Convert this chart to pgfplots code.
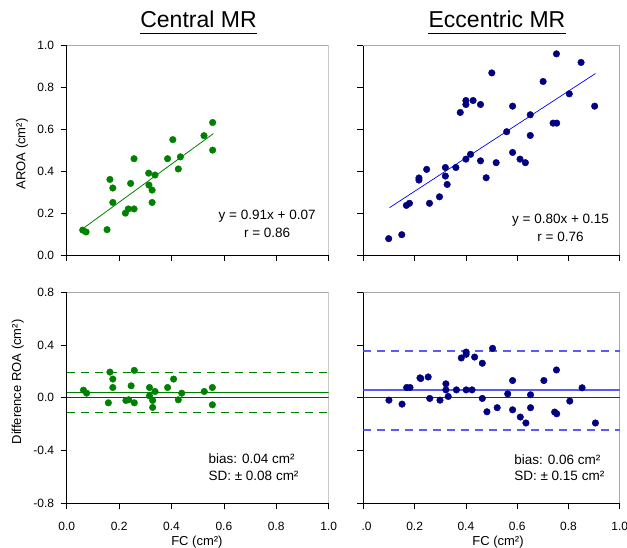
\documentclass[border=0pt]{standalone}
\usepackage{fontspec}
\setmainfont{Liberation Sans}
\usepackage{pgfplots}
\pgfplotsset{compat=1.18}

\definecolor{dotgreen}{RGB}{0,128,0}
\definecolor{dotnavy}{RGB}{0,0,128}
\definecolor{lineblue}{RGB}{90,90,255}
\definecolor{framegray}{RGB}{170,170,170}

\pgfplotsset{
  panel/.style={
    scale only axis,
    axis lines=left,
    axis line style={-, black, line width=0.8pt},
    tick align=outside,
    major tick length=6pt,
    tick style={black, line width=0.8pt},
    xmin=0, xmax=1,
    xtick={0,0.2,0.4,0.6,0.8,1},
    every tick label/.append style={font=\fontsize{12}{14}\selectfont},
    xticklabel style={yshift=-9.5pt},
    yticklabel style={xshift=-3pt},
    /pgf/number format/fixed,
    /pgf/number format/fixed zerofill,
    /pgf/number format/precision=1,
    /pgf/number format/assume math mode=true,
    label style={font=\fontsize{13}{15}\selectfont},
  },
  toprow/.style={panel, height=209.3pt, ymin=0, ymax=1,
    ytick={0,0.2,0.4,0.6,0.8,1}, xticklabels={}},
  botrow/.style={panel, height=211pt, ymin=-0.8, ymax=0.8,
    ytick={-0.8,-0.4,0,0.4,0.8}},
  dots/.style={only marks, mark=*, mark size=3.3pt, color=#1},
}

\newcommand{\frameTR}{\draw[framegray, line width=1.2pt] (rel axis cs:0,1) -- (rel axis cs:1,1) -- (rel axis cs:1,0);}

\begin{document}
\begin{tikzpicture}
\useasboundingbox (0,0) rectangle (627pt,548pt);

% titles
\node[inner sep=0, anchor=base, font=\fontsize{23}{26}\selectfont] (t1) at (198.5pt,520pt) {Central MR};
\draw[line width=1.7pt] ([yshift=-5.5pt]t1.base west) -- ([yshift=-5.5pt]t1.base east);
\node[inner sep=0, anchor=base, font=\fontsize{23}{26}\selectfont] (t2) at (497pt,520pt) {Eccentric MR};
\draw[line width=1.7pt] ([yshift=-5.5pt]t2.base west) -- ([yshift=-5.5pt]t2.base east);

% Central MR, correlation
\begin{axis}[toprow, width=262pt, at={(66.7pt,293pt)}, anchor=south west,
  ylabel={AROA (cm²)},
  ylabel style={at={(axis description cs:-0.171,0.483)}, anchor=center}]
\frameTR
\addplot[dots=dotgreen] coordinates {
  (0.061,0.119) (0.074,0.110) (0.154,0.121) (0.165,0.361) (0.176,0.320)
  (0.176,0.251) (0.224,0.200) (0.235,0.220) (0.257,0.220) (0.244,0.342)
  (0.257,0.460) (0.313,0.391) (0.314,0.334) (0.326,0.310) (0.326,0.251)
  (0.337,0.382) (0.385,0.460) (0.405,0.551) (0.426,0.411) (0.434,0.469)
  (0.524,0.570) (0.557,0.633) (0.557,0.501)
};
\addplot[color=dotgreen, line width=0.8pt] coordinates {(0.066,0.130) (0.560,0.580)};
\node[font=\fontsize{13.5}{15}\selectfont] at (axis cs:0.765,0.186) {y = 0.91x + 0.07};
\node[font=\fontsize{13.5}{15}\selectfont] at (axis cs:0.765,0.105) {r = 0.86};
\end{axis}

% Eccentric MR, correlation
\begin{axis}[toprow, width=256.5pt, at={(363.3pt,293pt)}, anchor=south west,
  yticklabels={}]
\frameTR
\addplot[dots=dotnavy] coordinates {
  (0.099,0.078) (0.150,0.097) (0.168,0.237) (0.180,0.247) (0.217,0.368)
  (0.217,0.358) (0.247,0.409) (0.258,0.247) (0.297,0.278) (0.320,0.418)
  (0.320,0.377) (0.327,0.337) (0.361,0.418) (0.378,0.681) (0.400,0.738)
  (0.400,0.719) (0.400,0.458) (0.418,0.481) (0.428,0.738) (0.457,0.719)
  (0.457,0.450) (0.479,0.369) (0.501,0.870) (0.518,0.441) (0.559,0.589)
  (0.582,0.711) (0.582,0.490) (0.611,0.458) (0.632,0.441) (0.651,0.670)
  (0.651,0.571) (0.701,0.829) (0.740,0.630) (0.754,0.630) (0.753,0.961)
  (0.803,0.770) (0.849,0.920) (0.902,0.711)
};
\addplot[color=blue, line width=0.7pt] coordinates {(0.102,0.226) (0.905,0.867)};
\node[font=\fontsize{13.5}{15}\selectfont] at (axis cs:0.769,0.166) {y = 0.80x + 0.15};
\node[font=\fontsize{13.5}{15}\selectfont] at (axis cs:0.769,0.087) {r = 0.76};
\end{axis}

% Central MR, Bland-Altman
\begin{axis}[botrow, width=262pt, at={(66.7pt,44.7pt)}, anchor=south west,
  xlabel={FC (cm²)},
  xlabel style={at={(axis description cs:0.497,-0.184)}, anchor=center},
  ylabel={Difference ROA (cm²)},
  ylabel style={at={(axis description cs:-0.187,0.575)}, anchor=center}]
\frameTR
\addplot[color=black!80, line width=0.9pt] coordinates {(0,0) (1,0)};
\addplot[color=dotgreen, line width=1pt] coordinates {(0,0.043) (1,0.043)};
\addplot[color=dotgreen, line width=1pt, dash pattern=on 8pt off 6pt] coordinates {(0,0.192) (1,0.192)};
\addplot[color=dotgreen, line width=1pt, dash pattern=on 8pt off 6pt] coordinates {(0,-0.114) (1,-0.114)};
\addplot[dots=dotgreen] coordinates {
  (0.064,0.058) (0.076,0.035) (0.159,-0.038) (0.165,0.195) (0.176,0.142)
  (0.176,0.078) (0.226,-0.020) (0.237,-0.015) (0.246,0.091) (0.258,0.208)
  (0.258,-0.038) (0.316,0.078) (0.316,0.015) (0.328,-0.020) (0.328,-0.073)
  (0.337,0.048) (0.385,0.078) (0.408,0.142) (0.426,-0.015) (0.439,0.035)
  (0.525,0.048) (0.556,0.078) (0.556,-0.053)
};
\node[font=\fontsize{13.5}{15}\selectfont, anchor=west] at (axis cs:0.528,-0.463) {bias: 0.04 cm²};
\node[font=\fontsize{13.5}{15}\selectfont, anchor=west] at (axis cs:0.528,-0.592) {SD: ± 0.08 cm²};
\end{axis}

% Eccentric MR, Bland-Altman
\begin{axis}[botrow, width=256.5pt, at={(363.3pt,44.7pt)}, anchor=south west,
  yticklabels={},
  xticklabels={\phantom{0}.0,0.2,0.4,0.6,0.8,1.0},
  xlabel={FC (cm²)},
  xlabel style={at={(axis description cs:0.525,-0.184)}, anchor=center}]
\frameTR
\addplot[color=black!80, line width=0.9pt] coordinates {(0,0) (1,0)};
\addplot[color=lineblue, line width=1.3pt] coordinates {(0,0.060) (1,0.060)};
\addplot[color=lineblue, line width=1.2pt, dash pattern=on 8pt off 6pt] coordinates {(0,0.355) (1,0.355)};
\addplot[color=lineblue, line width=1.2pt, dash pattern=on 8pt off 6pt] coordinates {(0,-0.244) (1,-0.244)};
\addplot[dots=dotnavy] coordinates {
  (0.100,-0.018) (0.151,-0.048) (0.169,0.078) (0.182,0.078) (0.221,0.151)
  (0.224,0.146) (0.253,0.158) (0.259,-0.005) (0.299,-0.018) (0.322,0.106)
  (0.322,0.060) (0.331,0.010) (0.363,0.060) (0.382,0.302) (0.401,0.347)
  (0.401,0.330) (0.401,0.060) (0.424,0.060) (0.434,0.309) (0.464,0.262)
  (0.464,-0.005) (0.482,-0.106) (0.504,0.375) (0.522,-0.075) (0.563,0.030)
  (0.582,0.131) (0.582,-0.091) (0.612,-0.146) (0.634,-0.191) (0.652,0.023)
  (0.652,-0.075) (0.704,0.131) (0.746,-0.108) (0.754,-0.121) (0.753,0.211)
  (0.805,-0.025) (0.853,0.076) (0.905,-0.191)
};
\node[font=\fontsize{13.5}{15}\selectfont, anchor=west] at (axis cs:0.575,-0.466) {bias: 0.06 cm²};
\node[font=\fontsize{13.5}{15}\selectfont, anchor=west] at (axis cs:0.575,-0.594) {SD: ± 0.15 cm²};
\end{axis}
\end{tikzpicture}
\end{document}
